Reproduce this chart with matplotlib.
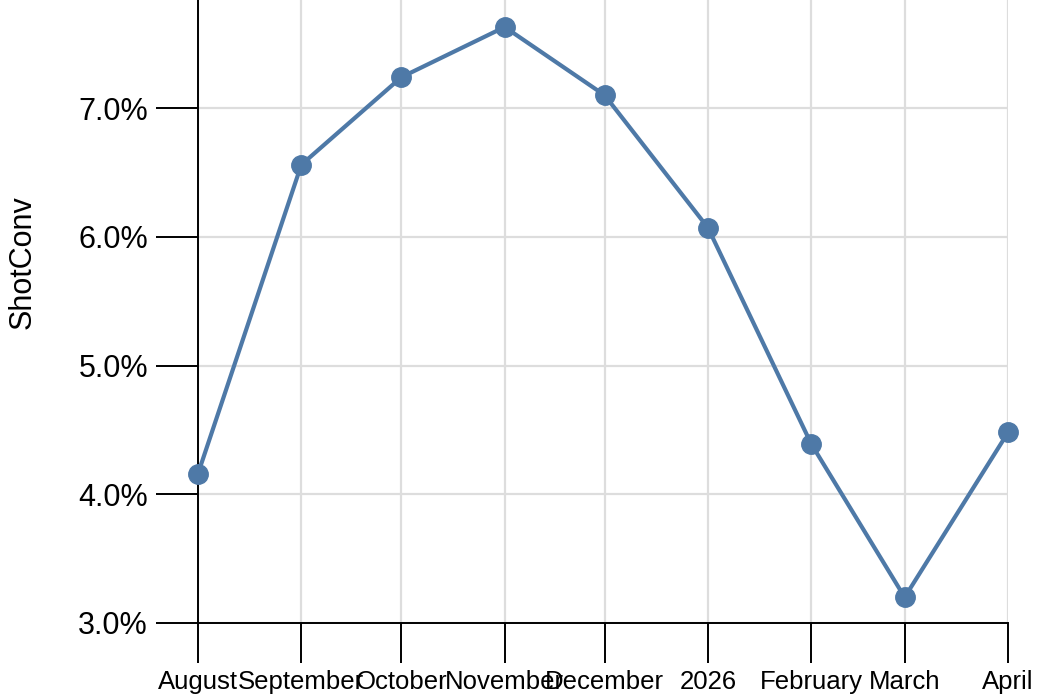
import datetime
import matplotlib
matplotlib.use('Agg')
import matplotlib.pyplot as plt
from matplotlib.ticker import FuncFormatter

plt.rcParams['font.family'] = ['Liberation Sans', 'DejaVu Sans']

months = [datetime.date(2025, 8, 1), datetime.date(2025, 9, 1), datetime.date(2025, 10, 1),
          datetime.date(2025, 11, 1), datetime.date(2025, 12, 1), datetime.date(2026, 1, 1),
          datetime.date(2026, 2, 1), datetime.date(2026, 3, 1), datetime.date(2026, 4, 1)]
month_labels = ['August', 'September', 'October', 'November', 'December', '2026',
                'February', 'March', 'April']
shot_conv = [4.16, 6.56, 7.24, 7.63, 7.10, 6.07, 4.39, 3.20, 4.48]
y_ticks = [3.0, 4.0, 5.0, 6.0, 7.0]

fig = plt.figure(figsize=(10.44, 6.96), dpi=100)
ax = fig.add_axes([198 / 1044, 73 / 696, 810 / 1044, 623 / 696])

ax.plot(months, shot_conv, '-o', color='#4e79a7', lw=3, ms=14, zorder=3, clip_on=False)

ax.set_xlim(months[0], months[-1])
ax.set_ylim(3.0, 7.84)
ax.set_xticks(months)
ax.set_xticklabels(month_labels, fontsize=18.5)
ax.set_yticks(y_ticks)
ax.yaxis.set_major_formatter(FuncFormatter(lambda v, p: '%.1f%%' % v))
ax.tick_params(axis='y', labelsize=22, length=30, width=1.4, pad=6)
ax.tick_params(axis='x', length=29, width=1.4, pad=5)
ax.grid(True, color='#dddddd', lw=1.6, zorder=0)
ax.set_axisbelow(True)

for s in ['top', 'right']:
    ax.spines[s].set_visible(False)
for s in ['left', 'bottom']:
    ax.spines[s].set_linewidth(1.4)

ax.set_ylabel('ShotConv', fontsize=22)
ax.yaxis.set_label_coords((38 - 198) / 810, 0.58)

fig.savefig('out.png', dpi=100)
